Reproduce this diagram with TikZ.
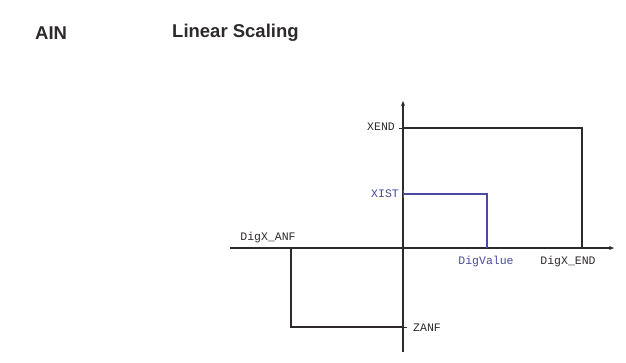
\documentclass[tikz,border=0pt]{standalone}
\usepackage{fontspec}
\setmainfont{Liberation Sans}
\newfontfamily\monofont{Liberation Mono}
\usetikzlibrary{arrows.meta}
\definecolor{ink}{HTML}{2E2A2C}
\definecolor{blueink}{HTML}{4A4AA0}
\tikzset{
  axisline/.style={ink, line width=1.1pt},
  graphline/.style={ink, line width=1.1pt},
  blueline/.style={blueink, line width=1.1pt},
  lbl/.style={font=\monofont\fontsize{11.5}{11.5}\selectfont, text=ink, inner sep=1pt},
  bluelbl/.style={lbl, text=blueink},
  title/.style={font=\bfseries\fontsize{18.5}{18.5}\selectfont, text=ink, inner sep=0pt, anchor=west}
}
\begin{document}
\begin{tikzpicture}[x=1pt,y=-1pt]
\useasboundingbox (0,0) rectangle (626,362);
\fill[white] (0,0) rectangle (626,362);
% titles
\node[title] (ain) at (35,33) {AIN};
\node[title] (ttl) at (172,33) {Linear Scaling};
% axes
\coordinate (xl) at (230,248);
\coordinate (xr) at (614,248);
\coordinate (yb) at (403,352);
\coordinate (yt) at (403,101);
\draw[axisline, -{Stealth[length=5pt,width=4pt]}] (xl) -- (xr);
\draw[axisline, -{Stealth[length=5pt,width=4pt]}] (yb) -- (yt);
% key points
\coordinate (xend) at (403,128);
\coordinate (xendc) at (582,128);
\coordinate (dend) at (582,248);
\coordinate (xist) at (403,194);
\coordinate (xistc) at (487,194);
\coordinate (dval) at (487,248);
\coordinate (danf) at (291,248);
\coordinate (zanfc) at (291,327);
\coordinate (zanf) at (403,327);
% lines
\draw[graphline] (xend) -- (xendc) -- (dend);
\draw[blueline] (xist) -- (xistc) -- (dval);
\draw[graphline] (danf) -- (zanfc) -- (zanf);
% small ticks
\draw[ink, line width=1pt] (399,128) -- (407,128);
\draw[ink, line width=1pt] (399,327) -- (407,327);
\draw[blueink, line width=1pt] (403,190) -- (403,198);
% labels
\node[lbl, anchor=east] (lxend) at (396,127) {XEND};
\node[bluelbl, anchor=east] (lxist) at (400,194) {XIST};
\node[lbl] (ldanf) at (268,238) {DigX\_ANF};
\node[bluelbl] (ldval) at (486,262) {DigValue};
\node[lbl] (ldend) at (568,262) {DigX\_END};
\node[lbl, anchor=west] (lzanf) at (412,328) {ZANF};
\end{tikzpicture}
\end{document}
